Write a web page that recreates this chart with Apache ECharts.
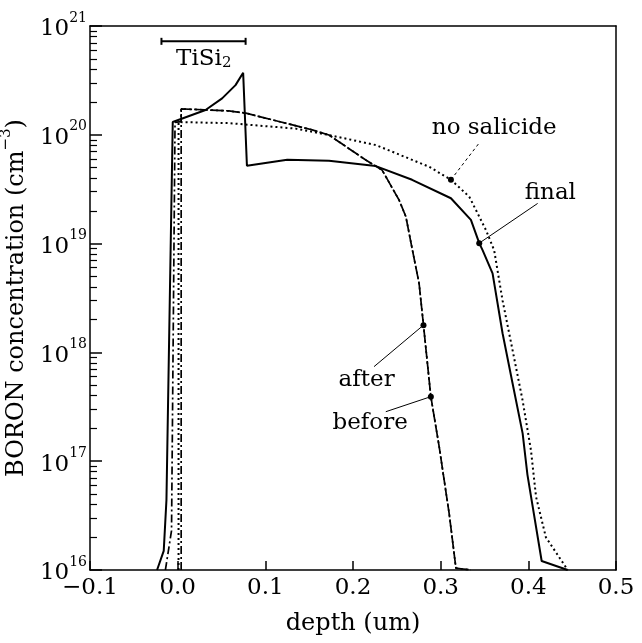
<!DOCTYPE html>
<html>
<head>
<meta charset="utf-8">
<script src="https://cdn.jsdelivr.net/npm/echarts@6/dist/echarts.min.js"></script>
<style>
html, body { margin: 0; padding: 0; background: #fff; }
#chart { width: 642px; height: 643px; }
</style>
</head>
<body>
<div id="chart"></div>
<script>
const FONT = 'DejaVu Serif';

// axis structure
const decadeExps = [16, 17, 18, 19, 20, 21];
const minorSteps = [2, 3, 4, 5, 6, 7, 8, 9];

// profiles: [depth (um), boron (cm-3)]
const finalProfile = [
    [-0.0235, 1e16], [-0.0159, 1.5e16], [-0.0128, 4.4e16], [-0.0071, 2.5e19], [-0.0056, 1.31e20],
    [0.0318, 1.69e20], [0.0507, 2.16e20], [0.066, 2.86e20], [0.0747, 3.72e20], [0.079, 5.2e19],
    [0.125, 5.9e19], [0.1726, 5.78e19], [0.226, 5.16e19], [0.2674, 3.86e19], [0.3117, 2.61e19],
    [0.3345, 1.65e19], [0.344, 1.01e19], [0.3478, 8.7e18], [0.3592, 5.33e18], [0.3706, 1.5e18],
    [0.382, 5.2e17], [0.3935, 1.8e17], [0.399, 7.5e16], [0.4152, 1.21e16], [0.4449, 1e16]
];
const noSalicideProfile = [
    [0.001, 1e16], [0.001, 1.31e20], [0.0584, 1.28e20], [0.1346, 1.14e20], [0.1726, 9.95e19],
    [0.226, 8.05e19], [0.287, 5.08e19], [0.3117, 3.86e19], [0.3326, 2.7e19], [0.3517, 1.33e19],
    [0.361, 8.7e18], [0.3706, 3.0e18], [0.382, 1.05e18], [0.3935, 3.6e17], [0.403, 1.26e17],
    [0.4088, 4.7e16], [0.42, 2.0e16], [0.4449, 1e16]
];
const dashDotTail = [
    [0.0584, 1.66e20], [0.0778, 1.58e20], [0.1535, 1.11e20], [0.1726, 9.95e19], [0.2146, 5.86e19],
    [0.2332, 4.74e19], [0.2526, 2.51e19], [0.2603, 1.77e19], [0.2678, 8.7e18], [0.2754, 4.3e18],
    [0.2804, 1.78e18], [0.2888, 3.92e17], [0.2983, 1.36e17], [0.3097, 3.3e16], [0.3174, 1.04e16],
    [0.3345, 1e16]
];
const beforeSurface = [[-0.014, 1e16], [-0.007, 2.3e16], [-0.003, 1.3e20], [0.004, 1.32e20], [0.004, 1.73e20]];
const afterSurface = [[0.004, 1e16], [0.004, 1.73e20]];

// annotations
const labelNames = ['no salicide', 'final', 'after', 'before'];
const labelPos = [[0.3611, 1.155e20], [0.4251, 2.92e19], [0.2155, 5.57e17], [0.2195, 2.24e17]];
const markerPos = [[0.3117, 3.86e19], [0.344, 1.01e19], [0.2804, 1.78e18], [0.2888, 3.92e17]];
const leaderEnd = [[0.3439, 8.4e19], [0.4106, 2.34e19], [0.224, 7.4e17], [0.2374, 2.85e17]];
const tisi2Span = [-0.0185, 0.0775];
const tisi2Level = 7.23e20;
const tisi2LabelPos = [0.0298, 5.19e20];

const minorTickValues = decadeExps.slice(0, -1).flatMap((e) => minorSteps.map((m) => m * Math.pow(10, e)));

const chart = echarts.init(document.getElementById('chart'));

const leaderSeries = markerPos.map((p, i) => ({
    type: 'line',
    data: [p, leaderEnd[i]],
    symbol: 'none',
    lineStyle: { color: '#000', width: 1, type: i === 0 ? [3, 3] : 'solid' },
    z: 3
}));

chart.setOption({
    animation: false,
    grid: { left: 90, right: 26, top: 26, bottom: 73, outerBoundsMode: 'none' },
    xAxis: [{
        type: 'value',
        min: -0.1,
        max: 0.5,
        interval: 0.1,
        position: 'bottom',
        name: 'depth (um)',
        nameLocation: 'middle',
        nameGap: 42,
        nameTextStyle: { fontFamily: FONT, fontSize: 24, color: '#000' },
        axisLine: { show: true, onZero: false, lineStyle: { color: '#000', width: 1.5 } },
        axisTick: { show: true, inside: true, length: 9, lineStyle: { color: '#000', width: 1.5 } },
        axisLabel: {
            show: true, fontFamily: FONT, fontSize: 23, color: '#000', margin: 7,
            formatter: (v) => (Math.abs(v) < 1e-9 ? '0.0' : v.toFixed(1)).replace('-', '\u2212')
        },
        splitLine: { show: false }
    }, {
        type: 'value', min: -0.1, max: 0.5, position: 'top',
        axisLine: { show: true, onZero: false, lineStyle: { color: '#000', width: 1.5 } },
        axisTick: { show: false },
        axisLabel: { show: false },
        splitLine: { show: false }
    }],
    yAxis: [{
        type: 'log',
        min: 1e16,
        max: 1e21,
        position: 'left',
        name: '{a|BORON concentration (cm}{s|\u22123}{a|)}',
        nameLocation: 'middle',
        nameRotate: 90,
        nameGap: 48,
        nameTextStyle: {
            rich: {
                a: { fontFamily: FONT, fontSize: 24, color: '#000', lineHeight: 30, verticalAlign: 'bottom' },
                s: { fontFamily: FONT, fontSize: 15, color: '#000', lineHeight: 30, verticalAlign: 'top' }
            }
        },
        axisLine: { show: true, onZero: false, lineStyle: { color: '#000', width: 1.5 } },
        axisTick: { show: true, inside: true, length: 12, lineStyle: { color: '#000', width: 1.5 } },
        axisLabel: {
            show: true,
            margin: 3,
            formatter: (v) => '{b|10}{s|' + Math.round(Math.log10(v)) + '}',
            rich: {
                b: { fontFamily: FONT, fontSize: 23, color: '#000', lineHeight: 30, verticalAlign: 'bottom' },
                s: { fontFamily: FONT, fontSize: 14, color: '#000', lineHeight: 30, verticalAlign: 'top' }
            }
        },
        splitLine: { show: false }
    }, {
        type: 'log',
        min: 1e16,
        max: 1e21,
        position: 'right',
        axisLine: { show: true, onZero: false, lineStyle: { color: '#000', width: 1.5 } },
        axisLabel: { show: false },
        axisTick: { show: false },
        splitLine: { show: false }
    }, {
        type: 'log',
        min: 1e16,
        max: 1e21,
        position: 'left',
        offset: 0,
        axisLine: { show: false, onZero: false },
        axisLabel: { show: false },
        axisTick: { show: true, inside: true, length: 7, customValues: minorTickValues, lineStyle: { color: '#000', width: 1.2 } },
        splitLine: { show: false }
    }],
    series: [{
        name: 'final',
        type: 'line',
        data: finalProfile,
        symbol: 'none',
        lineStyle: { color: '#000', width: 2 },
        z: 4
    }, {
        name: 'no salicide',
        type: 'line',
        data: noSalicideProfile,
        symbol: 'none',
        lineStyle: { color: '#000', width: 2, type: [2, 3] },
        z: 4
    }, {
        name: 'before',
        type: 'line',
        data: beforeSurface.concat(dashDotTail),
        symbol: 'none',
        lineStyle: { color: '#000', width: 1.7, type: [8, 3, 2, 3] },
        z: 4
    }, {
        name: 'after',
        type: 'line',
        data: afterSurface.concat(dashDotTail),
        symbol: 'none',
        lineStyle: { color: '#000', width: 1.7, type: [8, 3, 2, 3] },
        z: 4
    }, ...leaderSeries, {
        name: 'markers',
        type: 'scatter',
        data: markerPos,
        symbol: 'circle',
        symbolSize: 6,
        itemStyle: { color: '#000', opacity: 1 },
        z: 5
    }, {
        name: 'labels',
        type: 'scatter',
        data: labelNames.map((n, i) => ({ name: n, value: labelPos[i] })),
        symbolSize: 0,
        itemStyle: { opacity: 1 },
        label: {
            show: true,
            position: 'inside',
            formatter: '{b}',
            fontFamily: FONT,
            fontSize: 23,
            color: '#000'
        },
        z: 6
    }, {
        name: 'TiSi2 bar',
        type: 'line',
        data: tisi2Span.map((x) => [x, tisi2Level]),
        symbol: 'rect',
        symbolSize: [2, 7],
        itemStyle: { color: '#000' },
        lineStyle: { color: '#000', width: 2 },
        z: 5
    }, {
        name: 'TiSi2 label',
        type: 'scatter',
        data: [{ name: 'TiSi2', value: tisi2LabelPos }],
        symbolSize: 0,
        itemStyle: { opacity: 1 },
        label: {
            show: true,
            position: 'inside',
            formatter: '{a|TiSi}{s|2}',
            rich: {
                a: { fontFamily: FONT, fontSize: 23, color: '#000', lineHeight: 28, verticalAlign: 'bottom' },
                s: { fontFamily: FONT, fontSize: 15, color: '#000', lineHeight: 28, verticalAlign: 'bottom' }
            }
        },
        z: 6
    }]
});

window.addEventListener('resize', () => chart.resize());
</script>
</body>
</html>
